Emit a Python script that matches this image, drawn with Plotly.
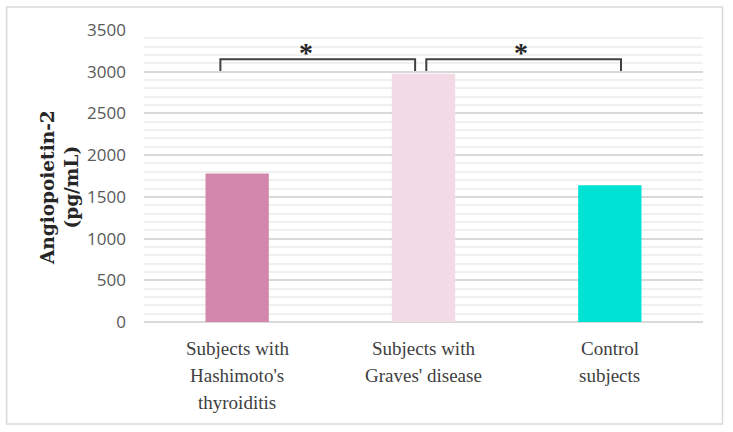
import plotly.graph_objects as go

categories = [["Subjects with", "Hashimoto's", "thyroiditis"],
              ["Subjects with", "Graves' disease"],
              ["Control", "subjects"]]
values = [1780, 2975, 1640]
colors = ["#D487AD", "#F2DBE4", "#00E2D3"]
y_ticks = [0, 500, 1000, 1500, 2000, 2500, 3000, 3500]

# significance brackets: (x_start, x_end) in category units
brackets = [(-0.09, 0.955), (1.015, 2.06)]
bracket_low, bracket_high = 3010, 3150
star_x = [0.37, 1.525]
star_y = 3225

W, H = 733, 432
ml, mr, mt, mb = 144, 29.5, 30, 110
pw, ph = W - ml - mr, H - mt - mb
SERIF = "Liberation Serif, Times New Roman, serif"

fig = go.Figure()
fig.add_trace(go.Bar(x=[0, 1, 2], y=values, marker=dict(color=colors, line=dict(width=0)),
                     width=0.34, showlegend=False))

for (x0, x1) in brackets:
    fig.add_trace(go.Scatter(x=[x0, x0, x1, x1], y=[bracket_low, bracket_high, bracket_high, bracket_low],
                             mode="lines", line=dict(color="#404040", width=2), showlegend=False,
                             hoverinfo="skip"))
for sx in star_x:
    fig.add_annotation(x=sx, y=star_y, text="<b>*</b>", showarrow=False,
                       font=dict(family=SERIF, size=28, color="#262626"))

# category labels (one annotation per line for Office-like line spacing)
for i, lines in enumerate(categories):
    for j, line in enumerate(lines):
        fig.add_annotation(x=i, y=0, yref="y", text=line, showarrow=False,
                           yanchor="top", yshift=-(14 + 27 * j),
                           font=dict(family=SERIF, size=19, color="#404040"))

fig.update_layout(
    width=W, height=H,
    margin=dict(l=ml, r=mr, t=mt, b=mb),
    plot_bgcolor="white", paper_bgcolor="white",
    bargap=0.66,
)
fig.update_xaxes(range=[-0.5, 2.5], tickvals=[0, 1, 2], showticklabels=False,
                 showgrid=False, zeroline=False, showline=False, ticks="")
fig.update_yaxes(range=[0, 3500], tickvals=y_ticks,
                 tickfont=dict(family="Open Sans", size=17, color="#595959"),
                 showgrid=True, gridcolor="#D9D9D9", gridwidth=1.5,
                 minor=dict(dtick=100, showgrid=True, gridcolor="#F0F0F0", gridwidth=1.5),
                 zeroline=True, zerolinecolor="#D9D9D9", zerolinewidth=1.5,
                 ticks="", ticklabelstandoff=17, showline=False)

fig.add_annotation(xref="paper", yref="paper", x=(60 - ml) / pw, y=(H - mb - 188) / ph,
                   xanchor="center", yanchor="middle",
                   text="<b>Angiopoietin-2<br>(pg/mL)</b>", textangle=-90, showarrow=False,
                   font=dict(family="DejaVu Serif", size=18.5, color="#262626"))

# outer border
fig.add_shape(type="rect", xref="paper", yref="paper",
              x0=(6.5 - ml) / pw, x1=(723 - ml) / pw,
              y0=(H - mb - 424) / ph, y1=(H - mb - 7) / ph,
              line=dict(color="#D9D9D9", width=1.5))

fig.write_html("out.html")
